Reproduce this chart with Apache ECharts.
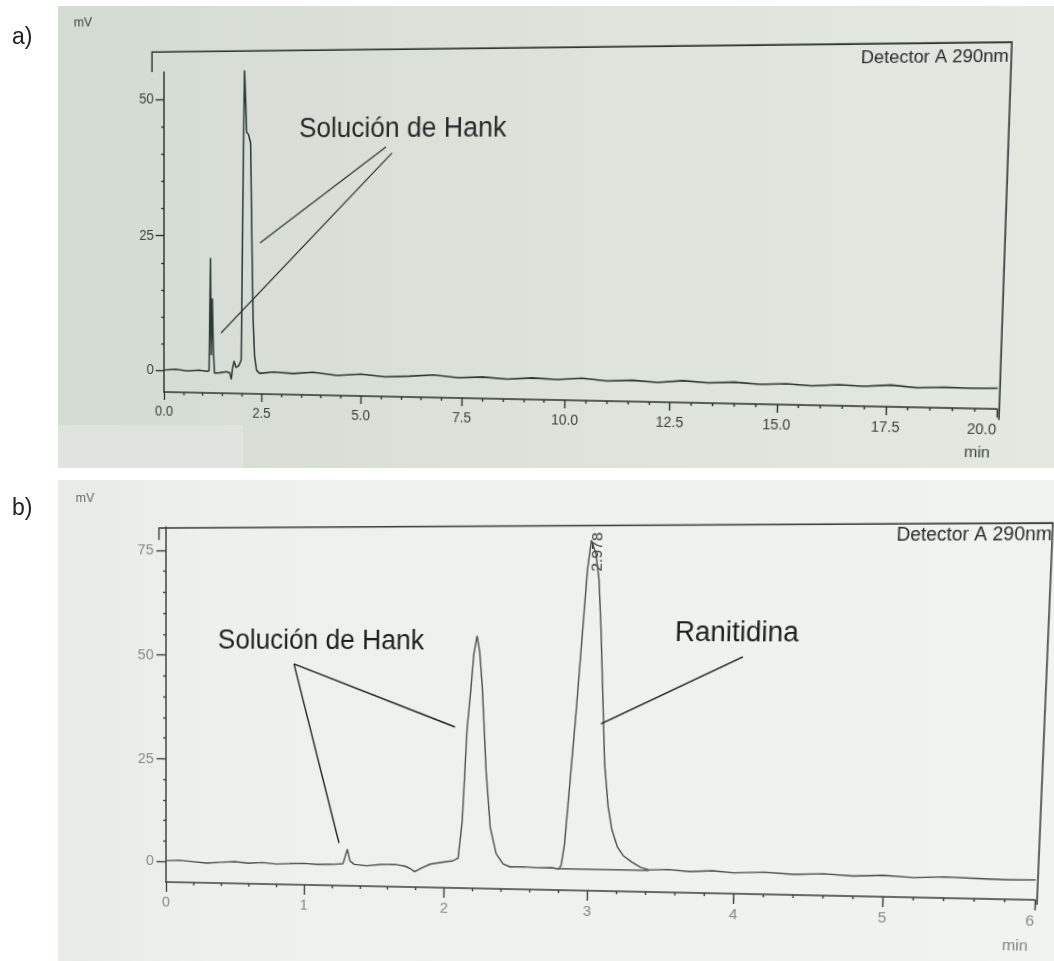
<!DOCTYPE html>
<html>
<head>
<meta charset="utf-8">
<title>Cromatogramas</title>
<script src="https://cdn.jsdelivr.net/npm/echarts@6/dist/echarts.min.js"></script>
<style>
  html, body { margin: 0; padding: 0; background: #fff; }
  .layer { position: absolute; left: 0; top: 0; width: 1054px; height: 961px; }
  #chartA, #chartB { transform-origin: 0 0; }
</style>
</head>
<body>
<div id="base" class="layer"></div>
<div id="chartA" class="layer"></div>
<div id="chartB" class="layer"></div>
<script>
// a) Solución de Hank, 0-20 min
const timeA = [0, 0.3, 0.6, 0.9, 1.1, 1.16, 1.19, 1.215, 1.24, 1.27,
  1.3, 1.45, 1.6, 1.69, 1.73, 1.76, 1.8, 1.85, 1.92, 1.98,
  2.01, 2.04, 2.07, 2.1, 2.15, 2.2, 2.24, 2.28, 2.32, 2.37,
  2.45, 2.8, 3.3, 3.8, 4.4, 5.0, 5.6, 6.2, 6.8, 7.4,
  8.0, 8.6, 9.2, 9.8, 10.4, 11.0, 11.6, 12.2, 12.8, 13.4,
  14.0, 14.6, 15.2, 15.8, 16.4, 17.0, 17.6, 18.2, 18.8, 19.4, 20.0];
const signalA = [0.1, 0.3, 0.0, 0.2, 0.0, 0.1, 21, 3, 13.5, 4,
  -0.3, -0.2, 0.0, -0.2, -1.4, 0.6, 2.0, 0.8, 1.2, 2.2,
  30, 55.5, 50, 44, 43.5, 42, 25, 10, 3, 0.4,
  -0.2, 0.1, -0.1, 0.2, -0.3, 0.0, -0.4, -0.2, 0.1, -0.3,
  -0.1, -0.4, -0.1, -0.3, 0.0, -0.4, -0.2, -0.5, -0.1, -0.4,
  -0.2, -0.5, -0.3, -0.6, -0.3, -0.5, -0.2, -0.6, -0.4, -0.5, -0.4];

// b) Hank + ranitidina, 0-6 min
const timeB = [0, 0.1, 0.2, 0.3, 0.4, 0.5, 0.6, 0.7, 0.8, 0.9,
  1.0, 1.1, 1.2, 1.28, 1.31, 1.33, 1.36, 1.45, 1.55, 1.65,
  1.72, 1.76, 1.79, 1.83, 1.9, 2.0, 2.06, 2.095, 2.12, 2.145,
  2.168, 2.184, 2.205, 2.225, 2.247, 2.282, 2.317, 2.361, 2.41, 2.46,
  2.55, 2.65, 2.75, 2.8, 2.815, 2.835, 2.865, 2.895, 2.925, 2.955,
  2.978, 3.01, 3.035, 3.055, 3.075, 3.1, 3.13, 3.16, 3.2, 3.24,
  3.3, 3.36, 3.42, 3.55, 3.7, 3.85, 4.0, 4.2, 4.4, 4.6,
  4.8, 5.0, 5.2, 5.4, 5.6, 5.8, 6.0];
const signalB = [0.2, 0.4, 0.1, -0.2, 0.1, 0.3, 0.0, 0.2, -0.1, 0.1,
  0.2, 0.0, 0.1, 0.3, 3.8, 1.0, 0.2, -0.1, 0.3, 0.4,
  0.0, -0.6, -1.3, -0.5, 0.6, 1.2, 1.5, 2.2, 11, 33,
  42.6, 50.5, 54.8, 51, 42.6, 22.9, 9.6, 3.4, 1.0, 0.3,
  0.4, 0.2, 0.3, 0.0, 1.0, 6, 21, 36, 53, 70,
  77, 74, 68, 57, 43, 25, 15, 9.5, 5.5, 3.5,
  2, 0.8, 0.2, 0.4, 0.0, 0.3, -0.1, 0.2, -0.2, 0.1,
  -0.3, 0.0, -0.4, -0.1, -0.3, -0.5, -0.4];
// baseline drawn under the ranitidina peak
const peakBaseTime = [2.805, 3.42];
const peakBaseSignal = [0.1, 0.1];

const majorYA = [0, 25, 50];
const minorYA = [5, 10, 15, 20, 30, 35, 40, 45];
const majorYB = [0, 25, 50, 75];
const minorYB = [5, 10, 15, 20, 30, 35, 40, 45, 55, 60, 65, 70];
const retentionLabel = '2.978';

const font = "'Liberation Sans', Arial, sans-serif";

// --- perspective of the photographs: flat grid -> quad seen in the picture
function adj(m) {
  return [
    m[4] * m[8] - m[5] * m[7], m[2] * m[7] - m[1] * m[8], m[1] * m[5] - m[2] * m[4],
    m[5] * m[6] - m[3] * m[8], m[0] * m[8] - m[2] * m[6], m[2] * m[3] - m[0] * m[5],
    m[3] * m[7] - m[4] * m[6], m[1] * m[6] - m[0] * m[7], m[0] * m[4] - m[1] * m[3]
  ];
}
function mulMM(a, b) {
  const c = [];
  for (let i = 0; i < 3; i++) for (let j = 0; j < 3; j++) {
    let s = 0;
    for (let k = 0; k < 3; k++) s += a[3 * i + k] * b[3 * k + j];
    c[3 * i + j] = s;
  }
  return c;
}
function mulMV(m, v) {
  return [m[0] * v[0] + m[1] * v[1] + m[2] * v[2],
          m[3] * v[0] + m[4] * v[1] + m[5] * v[2],
          m[6] * v[0] + m[7] * v[1] + m[8] * v[2]];
}
function basis(p) {
  const m = [p[0][0], p[1][0], p[2][0], p[0][1], p[1][1], p[2][1], 1, 1, 1];
  const v = mulMV(adj(m), [p[3][0], p[3][1], 1]);
  return mulMM(m, [v[0], 0, 0, 0, v[1], 0, 0, 0, v[2]]);
}
function fitQuad(el, flat, seen) {
  const h = mulMM(basis(seen), adj(basis(flat)));
  const n = h.map(v => v / h[8]);
  el.style.transform = 'matrix3d(' + [n[0], n[3], 0, n[6], n[1], n[4], 0, n[7],
    0, 0, 1, 0, n[2], n[5], 0, n[8]].join(',') + ')';
  const inv = adj(h);
  return p => { const v = mulMV(inv, [p[0], p[1], 1]); return [v[0] / v[2], v[1] / v[2]]; };
}

function seg(map, a, b, color, width) {
  const p = map(a), q = map(b);
  return { type: 'line', z: 20, shape: { x1: p[0], y1: p[1], x2: q[0], y2: q[1] },
    style: { stroke: color, lineWidth: width } };
}
function frame(map, pts, color, width) {
  return { type: 'polyline', z: 20, shape: { points: pts.map(map) },
    style: { stroke: color, lineWidth: width, fill: null } };
}
function label(map, at, text, size, color, align, extra) {
  const p = map(at);
  return Object.assign({ type: 'text', z: 20, x: p[0], y: p[1],
    style: { text: text, fontSize: size, fontFamily: font, fill: color,
      align: align || 'left', verticalAlign: 'middle' } }, extra || {});
}

function axisSet(opt) {
  const ink = opt.ink;
  return {
    xAxis: {
      type: 'value', min: opt.xMin, max: opt.xMax, interval: opt.xStep,
      axisLine: { onZero: false, lineStyle: { color: ink, width: 1.5 } },
      axisTick: { length: opt.tickX, lineStyle: { color: ink, width: 1.4 } },
      minorTick: { show: true, splitNumber: 5, length: 3, lineStyle: { color: ink, width: 1.4 } },
      axisLabel: { formatter: opt.fmt, margin: opt.marginX, fontSize: opt.size, fontFamily: font,
        color: opt.text, alignMaxLabel: 'right' },
      splitLine: { show: false }
    },
    yAxis: [{
      type: 'value', min: opt.yMin, max: opt.yMax,
      axisLine: { show: true, onZero: false, lineStyle: { color: ink, width: 1.5 } },
      axisTick: { show: true, length: opt.tickY, customValues: opt.major, lineStyle: { color: ink, width: 1.4 } },
      axisLabel: { customValues: opt.major, margin: opt.marginY, fontSize: opt.size, fontFamily: font, color: opt.text },
      splitLine: { show: false }
    }, {
      type: 'value', min: opt.yMin, max: opt.yMax, position: 'left', offset: 0,
      axisLine: { show: false },
      axisTick: { show: true, length: 3, customValues: opt.minor, lineStyle: { color: ink, width: 1.4 } },
      axisLabel: { show: false },
      splitLine: { show: false }
    }]
  };
}

// --- photographs and panel letters
const base = echarts.init(document.getElementById('base'));
base.setOption({
  animation: false,
  graphic: [
    { type: 'rect', shape: { x: 58, y: 6, width: 996, height: 462 },
      style: { fill: new echarts.graphic.LinearGradient(0, 0, 1, 0, [
        { offset: 0, color: '#d4dbd2' }, { offset: 0.5, color: '#dde3db' }, { offset: 1, color: '#e3e8e1' }]) } },
    { type: 'rect', shape: { x: 58, y: 425, width: 185, height: 43 }, style: { fill: '#dfe5de' } },
    { type: 'rect', shape: { x: 58, y: 480, width: 996, height: 481 },
      style: { fill: new echarts.graphic.LinearGradient(0, 0, 1, 0, [
        { offset: 0, color: '#e6ebe5' }, { offset: 0.15, color: '#edf1ec' }, { offset: 1, color: '#f0f3ef' }]) } },
    { type: 'text', x: 12, y: 38, style: { text: 'a)', fontSize: 23, fontFamily: font, fill: '#222', verticalAlign: 'middle' } },
    { type: 'text', x: 12, y: 509, style: { text: 'b)', fontSize: 23, fontFamily: font, fill: '#222', verticalAlign: 'middle' } }
  ]
});

// --- chart a
const GA = { left: 164, top: 72, right: 997, bottom: 392 };
const elA = document.getElementById('chartA');
const mapA = fitQuad(elA,
  [[GA.left, GA.top], [GA.right, GA.top], [GA.right, GA.bottom], [GA.left, GA.bottom]],
  [[164, 72], [1009, 64], [997, 409], [164, 392]]);
const inkA = '#2b3431', textA = '#3a423e';
const chartA = echarts.init(elA);
chartA.setOption(Object.assign({
  animation: false,
  grid: { left: GA.left, top: GA.top, width: GA.right - GA.left, height: GA.bottom - GA.top, outerBoundsMode: 'none' },
  series: [{
    type: 'line', symbol: 'none', z: 5,
    data: timeA.map((t, i) => [t, signalA[i]]),
    lineStyle: { color: '#2c3a36', width: 1.6 }
  }],
  graphic: [
    frame(mapA, [[152, 72], [152, 52], [1012, 42], [999, 420]], inkA, 1.5),
    seg(mapA, [260, 243], [386, 147], '#2a302d', 1.2),
    seg(mapA, [221, 333], [392, 153], '#2a302d', 1.2),
    label(mapA, [299, 130], 'Solución de Hank', 27, '#262b29'),
    label(mapA, [1009, 57], 'Detector A 290nm', 17, '#262b29', 'right'),
    label(mapA, [83, 23], 'mV', 13, '#3a423e', 'center'),
    label(mapA, [977, 453], 'min', 15, '#3a423e', 'center')
  ]
}, axisSet({ ink: inkA, text: textA, xMin: 0, xMax: 20, xStep: 2.5, fmt: v => v.toFixed(1),
  yMin: -4, yMax: 55, major: majorYA, minor: minorYA, tickX: 8, tickY: 9,
  marginX: 13, marginY: 11, size: 14 })));

// --- chart b
const GB = { left: 166, top: 527, right: 1035, bottom: 882 };
const elB = document.getElementById('chartB');
const mapB = fitQuad(elB,
  [[GB.left, GB.top], [GB.right, GB.top], [GB.right, GB.bottom], [GB.left, GB.bottom]],
  [[166, 527], [1051, 523], [1035, 900], [166, 882]]);
const inkB = '#3c3f3d', textB = '#858985';
const chartB = echarts.init(elB);
chartB.setOption(Object.assign({
  animation: false,
  grid: { left: GB.left, top: GB.top, width: GB.right - GB.left, height: GB.bottom - GB.top, outerBoundsMode: 'none' },
  series: [{
    type: 'line', symbol: 'none', z: 5,
    data: timeB.map((t, i) => [t, signalB[i]]),
    lineStyle: { color: '#4b4e4c', width: 1.4 }
  }, {
    type: 'line', symbol: 'none', z: 4,
    data: peakBaseTime.map((t, i) => [t, peakBaseSignal[i]]),
    lineStyle: { color: '#3c3f3d', width: 1.3 }
  }],
  graphic: [
    frame(mapB, [[159, 540], [159, 528], [1053, 523], [1037, 905]], inkB, 1.5),
    seg(mapB, [294, 664], [339, 843], '#1e1e1e', 1.4),
    seg(mapB, [294, 664], [455, 727], '#1e1e1e', 1.4),
    seg(mapB, [743, 657], [601, 724], '#1e1e1e', 1.4),
    label(mapB, [218, 641], 'Solución de Hank', 27, '#1f1f1f'),
    label(mapB, [675, 633], 'Ranitidina', 27, '#1f1f1f'),
    label(mapB, [1052, 535], 'Detector A 290nm', 18, '#2a2a2a', 'right'),
    label(mapB, [85, 498], 'mV', 13, '#666a66', 'center'),
    label(mapB, [1015, 946], 'min', 15, '#7d817d', 'center'),
    label(mapB, [598, 552], retentionLabel, 15, '#3a3a3a', 'center', { rotation: Math.PI / 2 })
  ]
}, axisSet({ ink: inkB, text: textB, xMin: 0, xMax: 6, xStep: 1, fmt: v => String(v),
  yMin: -5, yMax: 80.5, major: majorYB, minor: minorYB, tickX: 10, tickY: 10,
  marginX: 13, marginY: 13, size: 15 })));
</script>
</body>
</html>
